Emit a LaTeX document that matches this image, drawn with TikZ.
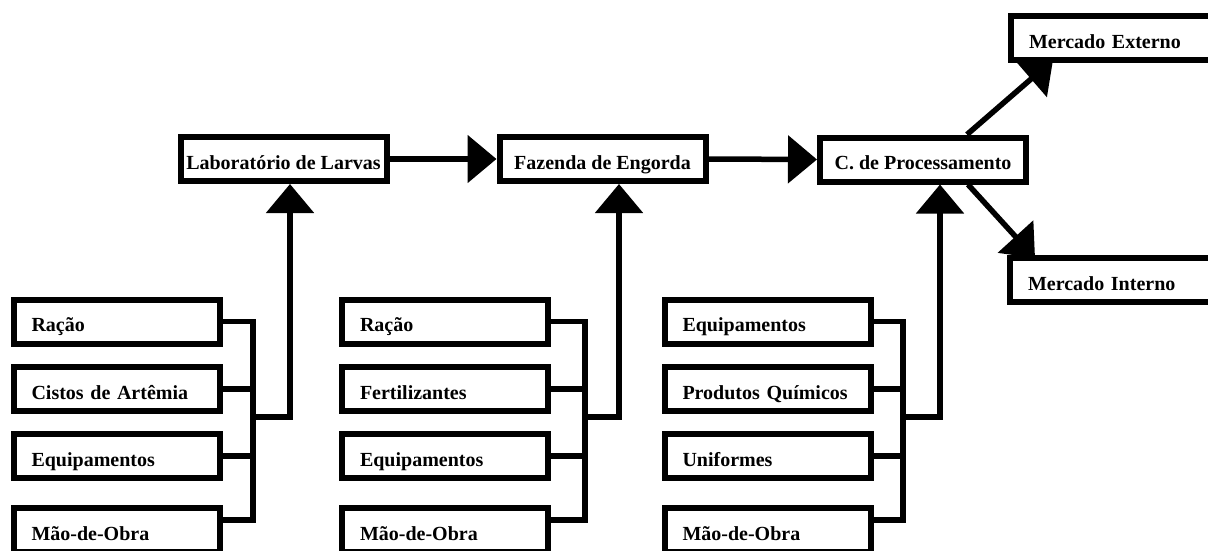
\documentclass[tikz,border=0pt]{standalone}
\usepackage{fontspec}
\setmainfont{Liberation Serif}
\usetikzlibrary{arrows.meta,backgrounds}

\tikzset{
  box/.style={draw, line width=6pt, fill=white, minimum width=206pt, minimum height=44pt,
    inner xsep=4pt, text height=22pt, text depth=2pt, font=\fontsize{20}{24}\selectfont\bfseries},
  inbox/.style={box, text width=170pt, inner xsep=18pt, align=left},
  wire/.style={line width=5.5pt},
  feed/.style={wire, -{Triangle[length=29pt,width=47pt]}}
}

\begin{document}
\begin{tikzpicture}[x=1pt, y=-1pt]
\useasboundingbox (0,0) rectangle (1208,550);
% cadeia principal
\node[box] (lab) at (283.5,159) {Laboratório de Larvas};
\node[box] (faz) at (602.5,159) {Fazenda de Engorda};
\node[box] (proc) at (923,159.5) {C. de Processamento};
\node[inbox] (ext) at (1114,38) {Mercado Externo};
\node[inbox] (int) at (1113,280) {Mercado Interno};
\draw[feed] (lab.east) -- (faz.west);
\draw[feed] (faz.east) -- (proc.west);
\begin{pgfonlayer}{background}
\draw[feed] ([xshift=44pt]proc.north) -- ([xshift=-61pt,yshift=3pt]ext.south);
\draw[feed] ([xshift=45pt]proc.south) -- ([xshift=-78pt,yshift=-3pt]int.north);
\end{pgfonlayer}
% insumos do laboratorio
\node[inbox] (racL) at (116.5,321.5) {Ração};
\node[inbox] (cisL) at (116.5,389) {Cistos de Artêmia};
\node[inbox] (eqL) at (116.5,456) {Equipamentos};
\node[inbox] (maoL) at (116.5,530) {Mão-de-Obra};
\coordinate (jL) at (253,417);
\draw[wire] (racL.east) -| (jL);
\draw[wire] (cisL.east) -- (cisL.east -| jL);
\draw[wire] (eqL.east) -- (eqL.east -| jL);
\draw[wire] ([yshift=10pt]maoL.east) -| (jL);
\draw[feed] (jL) -| ([xshift=6.5pt]lab.south);
% insumos da fazenda
\node[inbox] (racF) at (445,321.5) {Ração};
\node[inbox] (ferF) at (445,389) {Fertilizantes};
\node[inbox] (eqF) at (445,456) {Equipamentos};
\node[inbox] (maoF) at (445,530) {Mão-de-Obra};
\coordinate (jF) at (585,417);
\draw[wire] (racF.east) -| (jF);
\draw[wire] (ferF.east) -- (ferF.east -| jF);
\draw[wire] (eqF.east) -- (eqF.east -| jF);
\draw[wire] ([yshift=10pt]maoF.east) -| (jF);
\draw[feed] (jF) -| ([xshift=16.5pt]faz.south);
% insumos do processamento
\node[inbox] (eqP) at (767.5,321.5) {Equipamentos};
\node[inbox] (quiP) at (767.5,389) {Produtos Químicos};
\node[inbox] (uniP) at (767.5,456) {Uniformes};
\node[inbox] (maoP) at (767.5,530) {Mão-de-Obra};
\coordinate (jP) at (903,417);
\draw[wire] (eqP.east) -| (jP);
\draw[wire] (quiP.east) -- (quiP.east -| jP);
\draw[wire] (uniP.east) -- (uniP.east -| jP);
\draw[wire] ([yshift=10pt]maoP.east) -| (jP);
\draw[feed] (jP) -| ([xshift=17pt]proc.south);
\end{tikzpicture}
\end{document}
